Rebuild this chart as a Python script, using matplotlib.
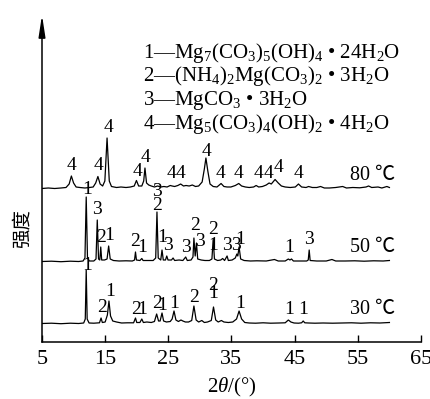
import matplotlib
matplotlib.use("Agg")
import matplotlib.pyplot as plt

plt.rcParams['font.family'] = ['Liberation Serif', 'DejaVu Serif']
plt.rcParams['mathtext.fontset'] = 'custom'
plt.rcParams['mathtext.rm'] = 'Liberation Serif'
plt.rcParams['mathtext.it'] = 'Liberation Serif:italic'

# ---- data (2theta in degrees, intensity in arbitrary units) ----
x30 = [5.0, 6.5, 8.0, 9.5, 10.8, 11.6, 11.85, 12.0, 12.15, 12.45, 13.2, 14.1, 14.35, 14.55, 15.0,
       15.35, 15.6, 15.85, 16.2, 16.8, 17.6, 18.5, 19.5, 19.8, 20.0, 20.5, 20.8, 21.05, 21.6, 22.3,
       22.8, 23.15, 23.45, 23.7, 24.0, 24.25, 24.7, 25.3, 25.6, 25.9, 26.2, 26.6, 27.0, 27.3, 27.7,
       28.2, 28.7, 29.05, 29.4, 29.8, 30.3, 30.7, 31.2, 31.8, 32.15, 32.5, 32.9, 33.4, 33.8, 34.5,
       35.2, 35.8, 36.2, 36.6, 37.1, 37.8, 38.8, 40.0, 41.2, 42.5, 43.5, 44.0, 44.4, 44.9, 45.6,
       46.1, 46.35, 46.6, 47.2, 48.2, 49.5, 51.0, 52.5, 54.0, 55.5, 57.0, 58.5, 60.0]
y30 = [0.5, 0.8, 0.3, 0.8, 0.5, 1.0, 5, 54, 5, 1.0, 0.8, 1.2, 6, 1.5, 2,
       9, 23, 8, 3, 2, 1, 1.2, 1.2, 6, 1.5, 1.5, 5, 1.5, 2, 1.5,
       2.5, 10, 3, 3, 11, 3, 2, 2.5, 5, 13, 4, 2.5, 4, 3, 2,
       2, 3.5, 18, 4, 2, 3.5, 1.5, 2, 3.5, 17, 4, 2, 3.5, 2, 1.5,
       2, 5, 13, 5, 1.5, 1, 0.8, 1.2, 0.8, 1.0, 1.2, 4, 2, 1, 0.8,
       1.2, 3, 1.2, 1, 0.8, 1, 0.8, 1, 1.2, 0.8, 1.2, 1, 1.5]

x50 = [5.0, 6.5, 8.0, 9.5, 10.8, 11.5, 11.8, 12.0, 12.2, 12.5, 13.2, 13.55, 13.75, 13.95, 14.15,
       14.3, 14.45, 14.9, 15.3, 15.55, 15.8, 16.3, 17.2, 18.3, 19.3, 19.65, 19.8, 19.95, 20.5, 20.8,
       21.0, 21.8, 22.6, 23.0, 23.2, 23.4, 23.8, 24.0, 24.2, 24.55, 24.75, 24.95, 25.5, 25.75, 26.0,
       26.7, 27.3, 27.75, 28.0, 28.6, 28.9, 29.05, 29.25, 29.45, 29.65, 30.2, 30.8, 31.5, 31.9, 32.1,
       32.3, 32.8, 33.3, 33.6, 33.9, 34.3, 34.5, 35.1, 35.6, 35.85, 36.0, 36.2, 36.45, 37.0, 38.0,
       39.0, 40.5, 41.8, 42.4, 43.5, 44.0, 44.25, 44.5, 44.8, 46.0, 46.9, 47.15, 47.3, 47.45, 48.5,
       50.0, 50.9, 51.5, 53.0, 54.5, 56.0, 57.5, 59.0, 60.0]
y50 = [0.5, 0.8, 0.3, 0.8, 0.5, 1, 4, 65, 4, 1, 1, 3, 42, 3, 2,
       15, 2, 2, 3, 16, 3, 1.5, 1, 1.2, 1, 2, 10, 2, 1.5, 3.5,
       1.5, 1.5, 1.5, 4, 50, 4, 2, 12, 2, 2, 6, 2, 2, 4, 1.5,
       2, 1.5, 5, 1.5, 2, 5, 24, 6, 19, 3, 2, 1.5, 1.5, 3, 23,
       3, 1.5, 2, 3.5, 1.5, 6, 1.5, 2, 4, 8, 6, 15, 3, 1.5, 1,
       1.2, 1, 2.5, 1, 1, 3, 2, 3, 1, 1, 1, 2, 12, 1.5, 1,
       1, 2.5, 1, 1, 1.2, 0.8, 1.2, 1, 1.5]

x80 = [5.0, 6.0, 7.0, 8.0, 8.8, 9.3, 9.65, 10.0, 10.4, 11.0, 11.8, 12.5, 13.1, 13.5, 13.85,
       14.2, 14.6, 14.95, 15.3, 15.65, 16.0, 16.8, 17.5, 18.3, 19.0, 19.6, 19.95, 20.3, 20.8, 21.1,
       21.3, 21.55, 21.9, 22.3, 22.8, 23.3, 23.8, 24.3, 24.8, 25.3, 25.6, 26.0, 26.5, 26.95, 27.4,
       27.8, 28.3, 28.8, 29.3, 29.8, 30.35, 30.7, 30.95, 31.25, 31.6, 32.1, 32.7, 33.35, 33.8, 34.3,
       34.9, 35.6, 36.15, 36.6, 37.2, 37.8, 38.5, 38.9, 39.3, 39.9, 40.5, 40.95, 41.3, 41.9, 42.4,
       42.9, 43.5, 44.3, 45.1, 45.6, 46.1, 46.8, 47.2, 47.8, 48.5, 49.1, 49.7, 50.5, 51.5, 52.6,
       53.2, 54.2, 55.3, 56.3, 56.7, 57.2, 58.2, 58.8, 59.6, 60.0]
y80 = [0.5, 1, 0.5, 1, 1.5, 5, 13, 6, 2, 1.5, 1, 1.5, 2, 6, 12.5,
       5, 3, 8, 51, 8, 2.5, 1.5, 2, 1.5, 2, 3, 8.5, 3, 3, 8,
       21, 6, 4, 3, 2, 3, 2, 2.5, 2, 3.5, 3, 2.5, 3.5, 5, 3,
       3.5, 3, 4, 2.5, 3, 7, 20, 31, 18, 5, 2.5, 2, 5.5, 2.5, 2,
       2, 3.5, 5.5, 3, 2, 1.5, 2, 3.5, 2, 2.5, 4, 6, 5, 9.5, 6,
       3, 2, 1.5, 2, 5, 2, 1.5, 2.5, 1.5, 1.5, 2.5, 1, 1, 1.5, 2.5,
       1, 1.5, 1.2, 2, 3, 1.5, 2, 1, 2.5, 1.5]

# peak labels: phase number, 2theta, height above the curve's baseline
lab80 = ['4', '4', '4', '4', '4', '4', '4', '4', '4', '4', '4', '4', '4', '4']
pos80 = [9.7, 14.0, 15.5, 20.1, 21.4, 25.5, 26.9, 31.0, 33.3, 36.1, 39.2, 40.8, 42.4, 45.6]
hgt80 = [24, 24, 61, 18, 32, 16, 16, 37.5, 15, 16, 15, 15, 21, 15]

lab50 = ['1', '3', '2', '1', '2', '1', '3', '2', '1', '3', '3', '2', '3', '2', '1', '3', '3', '1', '1', '3']
pos50 = [12.1, 13.7, 14.3, 15.6, 19.8, 20.9, 23.2, 23.2, 24.05, 25.0, 27.8, 29.2, 30.0, 32.1, 32.1,
         34.3, 35.7, 36.3, 44.1, 47.3]
hgt50 = [72, 52, 24, 27, 20, 14, 70, 57, 24, 17, 15, 37, 20, 32, 17, 17, 17, 23, 14, 22]

lab30 = ['1', '2', '1', '2', '1', '2', '1', '1', '2', '2', '1', '1', '1', '1']
pos30 = [12.1, 14.45, 15.75, 19.9, 20.9, 23.25, 24.1, 25.95, 29.05, 32.1, 32.1, 36.3, 44.1, 46.3]
hgt30 = [59, 16, 32, 15, 14, 21, 19, 21, 27, 38, 31, 21, 15, 14]

temps = ['30 ℃', '50 ℃', '80 ℃']
legend_lines = [r'1—Mg$_7$(CO$_3$)$_5$(OH)$_4$ • 24H$_2$O',
                r'2—(NH$_4$)$_2$Mg(CO$_3$)$_2$ • 3H$_2$O',
                r'3—MgCO$_3$ • 3H$_2$O',
                r'4—Mg$_5$(CO$_3$)$_4$(OH)$_2$ • 4H$_2$O']

offsets = [18, 80, 153]
W, H = 431, 399

fig = plt.figure(figsize=(W / 100, H / 100), dpi=100)
ax = fig.add_axes([42 / W, 57 / H, 379 / W, 327 / H])

series = [(x30, y30, lab30, pos30, hgt30), (x50, y50, lab50, pos50, hgt50), (x80, y80, lab80, pos80, hgt80)]
for (xs, ys, labs, poss, hgts), off, t in zip(series, offsets, temps):
    ax.plot(xs, [v + off for v in ys], color='black', lw=0.9)
    for lab, p, h in zip(labs, poss, hgts):
        ax.text(p, off + h, lab, ha='center', va='center', fontsize=14)
    ax.text(57.4, off + 14, t, ha='center', va='center', fontsize=14.5,
            family=['Liberation Serif', 'Noto Sans CJK SC'])

ax.set_xlim(5, 65)
ax.set_ylim(0, 327)
ax.set_xticks([5, 15, 25, 35, 45, 55, 65])
ax.tick_params(axis='x', direction='in', length=5, width=1, labelsize=16, pad=6)
ax.set_yticks([])
for s in ['top', 'right', 'left']:
    ax.spines[s].set_visible(False)
ax.spines['bottom'].set_linewidth(1.1)
ax.set_xlabel(r'$2\theta$/(°)', fontsize=15, labelpad=4.5)

# y axis drawn as an arrow
ax.annotate('', xy=(0, 1), xytext=(0, 0), xycoords='axes fraction',
            arrowprops=dict(arrowstyle='-|>,head_length=1.3,head_width=0.2', lw=1.1,
                            color='black', shrinkA=0, shrinkB=0, mutation_scale=10))
fig.text(22 / W, 1 - 228 / H, '强度', rotation=90, ha='center', va='center', fontsize=14,
         family=['Noto Sans CJK SC'], fontweight='light')

for i, s in enumerate(legend_lines):
    fig.text(143 / W, 1 - (53 + 23.5 * i) / H, s, ha='left', va='center', fontsize=15)

fig.savefig('out.png', dpi=100)
